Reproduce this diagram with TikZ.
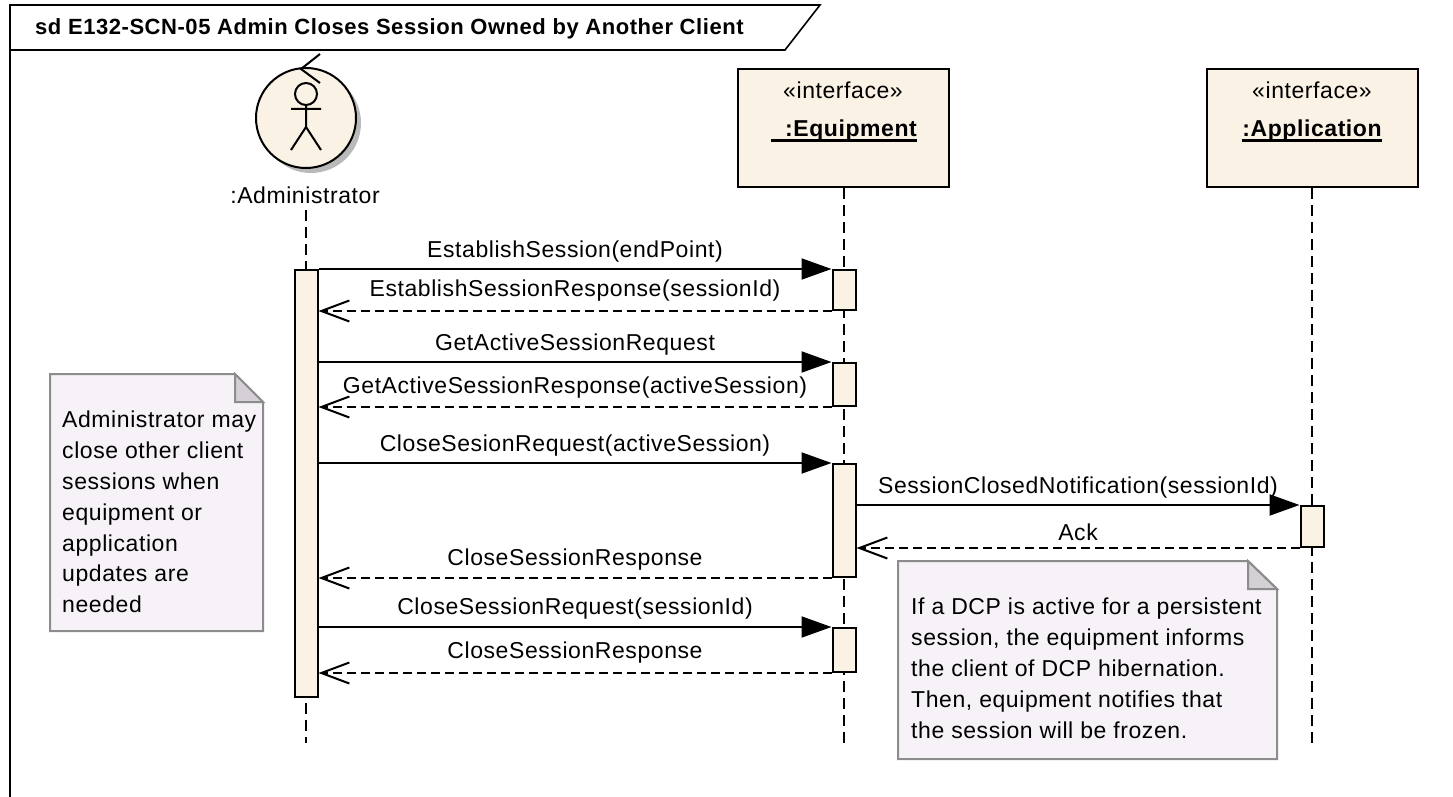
\documentclass[tikz,border=0pt]{standalone}
\usepackage{fontspec}
\setmainfont[LetterSpace=2.5]{Liberation Sans}
\usetikzlibrary{arrows.meta}
\definecolor{boxfill}{HTML}{FBF2E6}
\definecolor{notefill}{HTML}{F6F2F7}
\definecolor{foldfill}{HTML}{D4D0D6}
\tikzset{
  lbl/.style={font=\fontsize{23}{27}\selectfont,inner sep=0pt},
  headbox/.style={draw,fill=boxfill,line width=2pt,minimum width=211pt,minimum height=118pt,inner sep=0pt},
  bar/.style={draw,fill=boxfill,line width=2pt,minimum width=23pt,inner sep=0pt},
  lifeline/.style={line width=2pt,dash pattern=on 11pt off 6pt},
  callmsg/.style={line width=2pt,-{Triangle[length=30pt,width=21pt]}},
  retmsg/.style={line width=2pt,dash pattern=on 9pt off 5pt,-{Straight Barb[length=28pt,width=21pt,line width=2pt]}},
  notebody/.style={draw=gray!90,line width=2pt,fill=notefill},
}
\begin{document}
\begin{tikzpicture}[x=1pt,y=-1pt]
    %initialisation
    \useasboundingbox (0,0) rectangle (1453,797);
    %frame
    \draw[line width=1.6pt] (10,797) -- (10,5) -- (820,5) -- (785,50) -- (10,50);
    \node[lbl,anchor=west,font=\fontsize{22}{26}\selectfont\bfseries] (title) at (35,29) {sd E132-SCN-05 Admin Closes Session Owned by Another Client};
    %actor
    \fill[gray!55] (311,123) circle (50);
    \node[draw,circle,fill=boxfill,line width=2pt,minimum size=100pt,inner sep=0pt] (actor) at (306,118) {};
    \draw[line width=2pt] (320,54) -- (301,69) -- (320,83);
    \draw[line width=2pt] (306,94) circle (11);
    \draw[line width=2pt] (306,105) -- (306,127) (291,109) -- (321,109) (291,150) -- (306,127) -- (321,150);
    \node[lbl] (admin) at (305,195) {:Administrator};
    %heads
    \node[headbox] (equip) at (843,128) {};
    \node[lbl] (equiptype) at (843,90) {«interface»};
    \node[lbl,anchor=base,font=\fontsize{23}{27}\selectfont\bfseries] (equipname) at (844,137) {\ \ :Equipment};
    \draw[line width=3pt] ([yshift=-3.5pt]equipname.base west) -- ([yshift=-3.5pt]equipname.base east);
    \node[headbox] (appl) at (1312,128) {};
    \node[lbl] (appltype) at (1312,90) {«interface»};
    \node[lbl,anchor=base,font=\fontsize{23}{27}\selectfont\bfseries] (applname) at (1312,137) {:Application};
    \draw[line width=3pt] ([yshift=-3.5pt]applname.base west) -- ([yshift=-3.5pt]applname.base east);
    %lifelines
    \coordinate (adminend) at (305.5,743);
    \coordinate (equipend) at (844,743);
    \coordinate (applend) at (1312,743);
    \draw[lifeline] (305.5,210) -- (adminend);
    \draw[lifeline] (equip.south -| equipend) -- (equipend);
    \draw[lifeline] (appl.south -| applend) -- (applend);
    %bars
    \node[bar,minimum height=427pt] (adminbar) at (306,483.5) {};
    \node[bar,minimum height=40pt] (eqa) at (844,290) {};
    \node[bar,minimum height=43pt] (eqb) at (844,384.5) {};
    \node[bar,minimum height=113pt] (eqc) at (844,520.5) {};
    \node[bar,minimum height=44pt] (eqd) at (844,650) {};
    \node[bar,minimum height=41pt] (apa) at (1312,526.5) {};
    %messages
    \draw[callmsg] (adminbar.east |- eqa.north) -- (eqa.north west);
    \draw[retmsg] (eqa.south west) -- (adminbar.east |- eqa.south);
    \draw[callmsg] (adminbar.east |- eqb.north) -- (eqb.north west);
    \draw[retmsg] (eqb.south west) -- (adminbar.east |- eqb.south);
    \draw[callmsg] (adminbar.east |- eqc.north) -- (eqc.north west);
    \draw[callmsg] (eqc.east |- apa.north) -- (apa.north west);
    \draw[retmsg] (apa.south west) -- (eqc.east |- apa.south);
    \draw[retmsg] (eqc.south west) -- (adminbar.east |- eqc.south);
    \draw[callmsg] (adminbar.east |- eqd.north) -- (eqd.north west);
    \draw[retmsg] (eqd.south west) -- (adminbar.east |- eqd.south);
    %label
    \node[lbl] (m1) at (575,252) {EstablishSession(endPoint)};
    \node[lbl] (m2) at (575,291) {EstablishSessionResponse(sessionId)};
    \node[lbl] (m3) at (575,345) {GetActiveSessionRequest};
    \node[lbl] (m4) at (575,388) {GetActiveSessionResponse(activeSession)};
    \node[lbl] (m5) at (575,446) {CloseSesionRequest(activeSession)};
    \node[lbl] (m6) at (1078,488) {SessionClosedNotification(sessionId)};
    \node[lbl] (m7) at (1078,532) {Ack};
    \node[lbl] (m8) at (575,560) {CloseSessionResponse};
    \node[lbl] (m9) at (575,609) {CloseSessionRequest(sessionId)};
    \node[lbl] (m10) at (575,653) {CloseSessionResponse};
    %notes
    \draw[notebody] (50,374) -- (235,374) -- (263,402) -- (263,631) -- (50,631) -- cycle;
    \draw[draw=gray!90,line width=2pt,fill=foldfill] (235,374) -- (235,402) -- (263,402) -- cycle;
    \node[lbl,anchor=north west,align=left,font=\fontsize{23}{30.8}\selectfont] (noteadmin) at (62,411) {Administrator may\\close other client\\sessions when\\equipment or\\application\\updates are\\needed};
    \draw[notebody] (898,561) -- (1248,561) -- (1277,589) -- (1277,759) -- (898,759) -- cycle;
    \draw[draw=gray!90,line width=2pt,fill=foldfill] (1248,561) -- (1248,589) -- (1277,589) -- cycle;
    \node[lbl,anchor=north west,align=left,font=\fontsize{23}{30.8}\selectfont] (notedcp) at (911,598) {If a DCP is active for a persistent\\session, the equipment informs\\the client of DCP hibernation.\\Then, equipment notifies that\\the session will be frozen.};
\end{tikzpicture}
\end{document}
